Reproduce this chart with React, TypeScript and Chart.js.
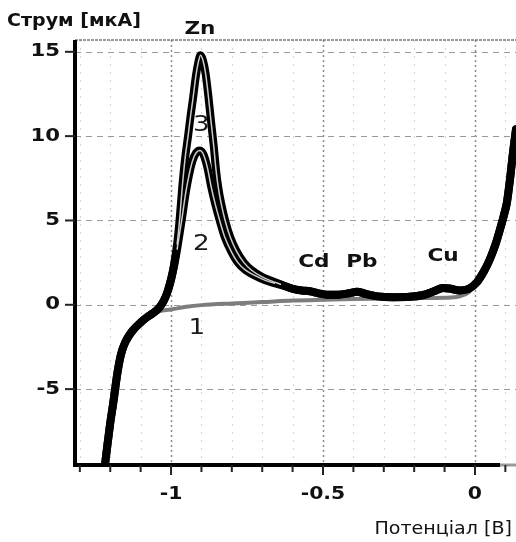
import React, { useEffect, useRef } from "react";
import { Chart, registerables } from "chart.js";

Chart.register(...registerables);

// ---- data (potential in V, current in µA) ----
const commonLeftV = [-1.218, -1.21, -1.2, -1.19, -1.184, -1.176, -1.168, -1.16, -1.15, -1.138, -1.125, -1.1, -1.08, -1.06];
const commonLeftI = [-9.6, -8.4, -7.0, -5.8, -5.0, -4.0, -3.2, -2.65, -2.2, -1.82, -1.5, -1.05, -0.75, -0.5];

const curve3PeakV = [-1.04, -1.025, -1.013, -1.0, -0.99, -0.98, -0.972, -0.963, -0.953, -0.944, -0.935, -0.928, -0.918, -0.91, -0.903, -0.895, -0.887, -0.878, -0.868, -0.86, -0.852, -0.845, -0.835, -0.822, -0.805, -0.785, -0.76, -0.735, -0.7, -0.67, -0.64];
const curve3PeakI = [-0.2, 0.2, 0.7, 1.5, 2.4, 3.6, 5.0, 7.0, 8.8, 10.0, 11.3, 12.2, 13.6, 14.4, 14.8, 14.5, 13.8, 12.5, 10.8, 9.5, 8.0, 7.0, 6.0, 5.0, 4.0, 3.2, 2.5, 2.05, 1.65, 1.42, 1.22];

const curve2PeakV = [-1.04, -1.025, -1.013, -1.0, -0.99, -0.98, -0.965, -0.952, -0.943, -0.93, -0.918, -0.905, -0.893, -0.88, -0.868, -0.855, -0.84, -0.823, -0.803, -0.78, -0.755, -0.72, -0.69, -0.66, -0.63];
const curve2PeakI = [-0.2, 0.2, 0.7, 1.5, 2.3, 3.3, 5.0, 6.6, 7.5, 8.5, 9.0, 9.15, 8.9, 8.1, 7.0, 6.0, 5.0, 4.0, 3.2, 2.5, 2.05, 1.7, 1.45, 1.28, 1.13];

const commonRightV = [-0.6, -0.57, -0.543, -0.515, -0.487, -0.45, -0.415, -0.388, -0.36, -0.32, -0.27, -0.214, -0.17, -0.135, -0.105, -0.08, -0.05, -0.02, 0.007, 0.03, 0.049, 0.068, 0.082, 0.095, 0.105, 0.115, 0.125, 0.135];
const commonRightI = [0.95, 0.85, 0.8, 0.68, 0.6, 0.6, 0.68, 0.78, 0.65, 0.5, 0.45, 0.47, 0.58, 0.8, 1.0, 0.95, 0.85, 0.95, 1.35, 2.0, 2.7, 3.6, 4.45, 5.3, 6.05, 7.4, 9.0, 10.4];

const curve1MidV = [-1.04, -1.02, -1.0, -0.95, -0.9, -0.8, -0.7, -0.6, -0.5, -0.4, -0.3, -0.2, -0.1, -0.05, -0.02];
const curve1MidI = [-0.38, -0.32, -0.28, -0.12, -0.02, 0.08, 0.16, 0.25, 0.3, 0.34, 0.37, 0.4, 0.42, 0.5, 0.75];
const curve1RightV = [0.007, 0.03, 0.049, 0.068, 0.082, 0.095, 0.105, 0.115, 0.125, 0.135];
const curve1RightI = [1.35, 2.0, 2.7, 3.6, 4.45, 5.3, 6.05, 7.4, 9.0, 10.4];

// axes
const xMin = -1.316;
const xMax = 0.135;
const yMin = -9.5;
const yMax = 15.7;
const xTickValues = [-1.3, -1.2, -1.1, -1.0, -0.9, -0.8, -0.7, -0.6, -0.5, -0.4, -0.3, -0.2, -0.1, 0.0, 0.1];
const xLabeledTicks = [-1, -0.5, 0];
const yTickValues = [-5, 0, 5, 10, 15];

// annotations
const elementLabels = ["Zn", "Cd", "Pb", "Cu"];
const elementLabelV = [-0.905, -0.53, -0.372, -0.105];
const elementLabelI = [16.35, 2.5, 2.5, 2.85];
const curveLabels = ["3", "2", "1"];
const curveLabelV = [-0.9, -0.9, -0.915];
const curveLabelI = [10.6, 3.55, -1.42];

const yTitle = "Струм [мкА]";
const xTitle = "Потенціал [В]";

function pts(vs: number[], is: number[]) {
  return vs.map((v, k) => ({ x: v, y: is[k] }));
}

const curve3 = [...pts(commonLeftV, commonLeftI), ...pts(curve3PeakV, curve3PeakI), ...pts(commonRightV, commonRightI)];
const curve2 = [...pts(commonLeftV, commonLeftI), ...pts(curve2PeakV, curve2PeakI), ...pts(commonRightV, commonRightI)];
const curve1 = [...pts(commonLeftV, commonLeftI), ...pts(curve1MidV, curve1MidI), ...pts(curve1RightV, curve1RightI)];

function drawText(ctx: CanvasRenderingContext2D, text: string, x: number, y: number, font: string, sx: number, align: string, color: string) {
  ctx.save();
  ctx.font = font;
  ctx.fillStyle = color;
  ctx.textBaseline = "middle";
  ctx.textAlign = "left";
  const w = ctx.measureText(text).width * sx;
  const left = align === "center" ? x - w / 2 : align === "right" ? x - w : x;
  ctx.translate(left, y);
  ctx.scale(sx, 1);
  ctx.fillText(text, 0, 0);
  ctx.restore();
}

const FONT = '"DejaVu Sans", sans-serif';

const decorPlugin = {
  id: "decor",
  beforeDatasetsDraw(chart: any) {
    const { ctx, chartArea: a, scales } = chart;
    const xs = scales.x, ys = scales.y;
    ctx.save();
    for (const t of xs.ticks) {
      const px = Math.round(xs.getPixelForValue(t.value)) + 0.5;
      const major = xLabeledTicks.some((v) => Math.abs(v - t.value) < 1e-6);
      ctx.strokeStyle = major ? "#8a8a8a" : "#d4d4d4";
      ctx.lineWidth = major ? 1.5 : 1;
      ctx.setLineDash(major ? [2, 3] : [2, 6]);
      ctx.beginPath();
      ctx.moveTo(px, a.top);
      ctx.lineTo(px, a.bottom);
      ctx.stroke();
    }
    ctx.strokeStyle = "#999";
    ctx.lineWidth = 1.2;
    ctx.setLineDash([6, 5]);
    for (const t of ys.ticks) {
      const py = Math.round(ys.getPixelForValue(t.value)) + 0.5;
      ctx.beginPath();
      ctx.moveTo(a.left, py);
      ctx.lineTo(a.right, py);
      ctx.stroke();
    }
    ctx.strokeStyle = "#777";
    ctx.lineWidth = 1.5;
    ctx.setLineDash([3, 1]);
    ctx.beginPath();
    ctx.moveTo(a.left, a.top);
    ctx.lineTo(a.right, a.top);
    ctx.stroke();
    ctx.restore();
  },
  afterDatasetsDraw(chart: any) {
    const { ctx, chartArea: a, scales } = chart;
    const xs = scales.x, ys = scales.y;
    ctx.save();
    ctx.setLineDash([]);
    ctx.strokeStyle = "#000";
    ctx.lineWidth = 4;
    ctx.beginPath();
    ctx.moveTo(a.left, a.top);
    ctx.lineTo(a.left, a.bottom + 2);
    ctx.stroke();
    ctx.beginPath();
    ctx.moveTo(a.left - 2, a.bottom);
    ctx.lineTo(a.right - 16, a.bottom);
    ctx.stroke();
    ctx.strokeStyle = "#9a9a9a";
    ctx.lineWidth = 3;
    ctx.beginPath();
    ctx.moveTo(a.right - 16, a.bottom);
    ctx.lineTo(a.right, a.bottom);
    ctx.stroke();
    ctx.strokeStyle = "#222";
    ctx.lineWidth = 2;
    for (const t of ys.ticks) {
      const py = ys.getPixelForValue(t.value);
      ctx.beginPath();
      ctx.moveTo(a.left - 10, py);
      ctx.lineTo(a.left, py);
      ctx.stroke();
      drawText(ctx, String(t.label), a.left - 15, py, `bold 17px ${FONT}`, 1.25, "right", "#111");
    }
    for (const t of xs.ticks) {
      const px = xs.getPixelForValue(t.value);
      const major = xLabeledTicks.some((v) => Math.abs(v - t.value) < 1e-6);
      ctx.beginPath();
      ctx.moveTo(px, a.bottom);
      ctx.lineTo(px, a.bottom + (major ? 10 : 7));
      ctx.stroke();
      if (t.label) drawText(ctx, String(t.label), px, a.bottom + 30, `bold 17px ${FONT}`, 1.2, "center", "#111");
    }
    elementLabels.forEach((s, k) => {
      drawText(ctx, s, xs.getPixelForValue(elementLabelV[k]), ys.getPixelForValue(elementLabelI[k]), `bold 18px ${FONT}`, 1.2, "center", "#111");
    });
    curveLabels.forEach((s, k) => {
      drawText(ctx, s, xs.getPixelForValue(curveLabelV[k]), ys.getPixelForValue(curveLabelI[k]), `21px ${FONT}`, 1.25, "center", "#1a1a1a");
    });
    drawText(ctx, yTitle, 7, 22, `bold 17px ${FONT}`, 1.12, "left", "#111");
    drawText(ctx, xTitle, a.right - 4, 529, `18px ${FONT}`, 1.06, "right", "#111");
    ctx.restore();
  },
};

const coreSegment = {
  borderColor: (c: any) => {
    const x0 = c.p0.parsed.x;
    return x0 > -0.985 && x0 < -0.66 ? "rgba(215,215,215,0.95)" : "rgba(0,0,0,0)";
  },
};

export default function App() {
  const ref = useRef<HTMLCanvasElement | null>(null);
  useEffect(() => {
    if (!ref.current) return;
    const common = {
      pointRadius: 0,
      fill: false,
      cubicInterpolationMode: "monotone" as const,
      borderCapStyle: "round" as const,
      borderJoinStyle: "round" as const,
    };
    const chart = new Chart(ref.current, {
      type: "line",
      data: {
        datasets: [
          { ...common, label: "1", data: curve1, borderColor: "#7d7d7d", borderWidth: 4, order: 5 },
          { ...common, label: "2", data: curve2, borderColor: "#000", borderWidth: 8, order: 4 },
          { ...common, label: "3", data: curve3, borderColor: "#000", borderWidth: 8, order: 3 },
          { ...common, label: "2c", data: curve2, borderColor: "#ddd", borderWidth: 1.5, segment: coreSegment, order: 2 },
          { ...common, label: "3c", data: curve3, borderColor: "#ddd", borderWidth: 1.5, segment: coreSegment, order: 1 },
        ],
      },
      options: {
        animation: false,
        responsive: false,
        devicePixelRatio: 1,
        layout: { padding: { top: 40, left: 0, right: 0, bottom: 0 } },
        plugins: { legend: { display: false }, tooltip: { enabled: false }, title: { display: false } },
        scales: {
          x: {
            type: "linear",
            min: xMin,
            max: xMax,
            grid: { display: false, drawTicks: false },
            border: { display: false },
            ticks: {
              display: false,
              callback: (v: any) => {
                const r = Math.round(Number(v) * 10) / 10;
                return xLabeledTicks.some((t) => Math.abs(t - r) < 1e-6) ? String(r) : "";
              },
            },
            afterBuildTicks: (axis: any) => {
              axis.ticks = xTickValues.map((v) => ({ value: v }));
            },
            afterFit: (s: any) => {
              s.height = 77;
            },
          },
          y: {
            type: "linear",
            min: yMin,
            max: yMax,
            grid: { display: false, drawTicks: false },
            border: { display: false },
            ticks: { display: false, callback: (v: any) => String(v) },
            afterBuildTicks: (axis: any) => {
              axis.ticks = yTickValues.map((v) => ({ value: v }));
            },
            afterFit: (s: any) => {
              s.width = 75;
            },
          },
        },
      },
      plugins: [decorPlugin],
    });
    return () => chart.destroy();
  }, []);
  return (
    <div style={{ position: "fixed", left: 0, top: 0, width: 516, height: 542, background: "#fff", overflow: "hidden" }}>
      <canvas ref={ref} width={516} height={542} />
    </div>
  );
}
